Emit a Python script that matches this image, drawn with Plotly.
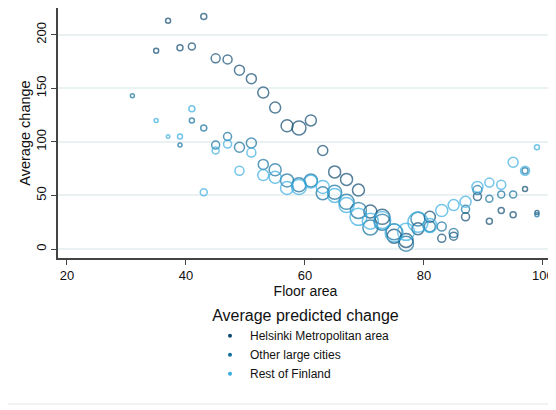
import plotly.graph_objects as go

# Helsinki Metropolitan area
hel_x = [35, 37, 39, 41, 43, 45, 47, 49, 51, 53, 55, 57, 59, 61, 63, 65, 67, 69, 71, 73, 75, 77, 79, 81, 83, 85, 87, 89, 91, 93, 95, 97, 99]
hel_y = [185, 213, 188, 189, 217, 178, 177, 167, 159, 146, 132, 115, 113, 120, 92, 72, 65, 55, 35, 30, 12, 8, 19, 30, 10, 12, 30, 49, 26, 36, 32, 56, 34]
hel_n = [5, 5, 6, 7, 6, 9, 9, 10, 10, 11, 11, 12, 14, 11, 10, 12, 12, 12, 13, 15, 14, 14, 12, 11, 8, 8, 8, 8, 6, 6, 6, 5, 4]

# Other large cities
oth_x = [31, 39, 41, 43, 45, 47, 49, 51, 53, 55, 57, 59, 61, 63, 65, 67, 69, 71, 73, 75, 77, 79, 81, 83, 85, 87, 89, 91, 93, 95, 97, 99]
oth_y = [143, 97, 120, 113, 97, 105, 95, 99, 79, 74, 64, 60, 64, 52, 53, 44, 36, 20, 25, 16, 5, 28, 21, 21, 15, 37, 55, 47, 51, 51, 73, 32]
oth_n = [4, 4, 5, 6, 8, 8, 10, 10, 10, 12, 13, 14, 13, 13, 14, 15, 16, 15, 16, 16, 15, 14, 11, 9, 9, 8, 9, 7, 7, 7, 6, 4]

# Rest of Finland
rest_x = [35, 37, 39, 41, 43, 45, 47, 49, 51, 53, 55, 57, 59, 61, 63, 65, 67, 69, 71, 73, 75, 77, 79, 81, 83, 85, 87, 89, 91, 93, 95, 97, 99]
rest_y = [120, 105, 105, 131, 53, 92, 98, 73, 90, 69, 67, 57, 58, 63, 58, 50, 41, 30, 26, 27, 15, 16, 25, 22, 36, 41, 44, 58, 62, 60, 81, 73, 95]
rest_n = [4, 3.5, 5, 6, 7, 7, 8, 9, 9, 11, 12, 13, 15, 13, 13, 14, 15, 17, 16, 17, 18, 17, 20, 14, 12, 11, 11, 11, 9, 9, 10, 9, 5]

names = ["Helsinki Metropolitan area", "Other large cities", "Rest of Finland"]
colors = ["#0f4a70", "#136f9c", "#38ade0"]
series = [(hel_x, hel_y, hel_n), (oth_x, oth_y, oth_n), (rest_x, rest_y, rest_n)]

FONT = "Liberation Sans, Arial, sans-serif"

fig = go.Figure()
for (xs, ys, ns), name, col in zip(series, names, colors):
    fig.add_trace(go.Scatter(
        x=xs, y=ys, mode="markers", name=name, showlegend=False,
        marker=dict(symbol="circle-open", size=ns, color=col, line=dict(width=1.5, color=col)),
    ))
for name, col in zip(names, colors):
    fig.add_trace(go.Scatter(
        x=[None], y=[None], mode="markers", name=name,
        marker=dict(symbol="circle", size=4, color=col),
    ))

# page body has an 8px default margin, so the figure is sized to fit within the window
fig.update_layout(
    width=548, height=402,
    margin=dict(l=50, r=3, t=0, b=152),
    paper_bgcolor="white", plot_bgcolor="white",
    font=dict(family=FONT, size=13, color="#111111"),
    xaxis=dict(
        range=[18.5, 101.7], tickvals=[20, 40, 60, 80, 100],
        showgrid=False, zeroline=False, automargin=False,
        showline=True, linecolor="#444444", linewidth=1.5,
        ticks="outside", ticklen=5, tickcolor="#444444",
        tickfont=dict(size=13),
        title=dict(text="Floor area", font=dict(size=14), standoff=3),
    ),
    yaxis=dict(
        range=[-8.4, 225], tickvals=[0, 50, 100, 150, 200],
        showgrid=True, gridcolor="#eaf1f2", gridwidth=1.5, zeroline=False, automargin=False,
        showline=True, linecolor="#444444", linewidth=1.5,
        ticks="outside", ticklen=5, tickcolor="#444444",
        tickangle=-90, tickfont=dict(size=13),
        title=dict(text="Average change", font=dict(size=14.5), standoff=0),
    ),
    legend=dict(
        x=0.5, xanchor="center", y=-0.17, yanchor="top",
        orientation="v",
        title=dict(text="Average predicted change", side="top center", font=dict(size=16)),
        font=dict(size=12), itemwidth=30, tracegroupgap=0,
        bgcolor="rgba(0,0,0,0)",
    ),
    shapes=[dict(type="line", xref="paper", yref="paper",
                 x0=-0.13, x1=1.01, y0=-0.584, y1=-0.584,
                 line=dict(color="#e6e6e6", width=1))],
)

fig.write_html("out.html")
